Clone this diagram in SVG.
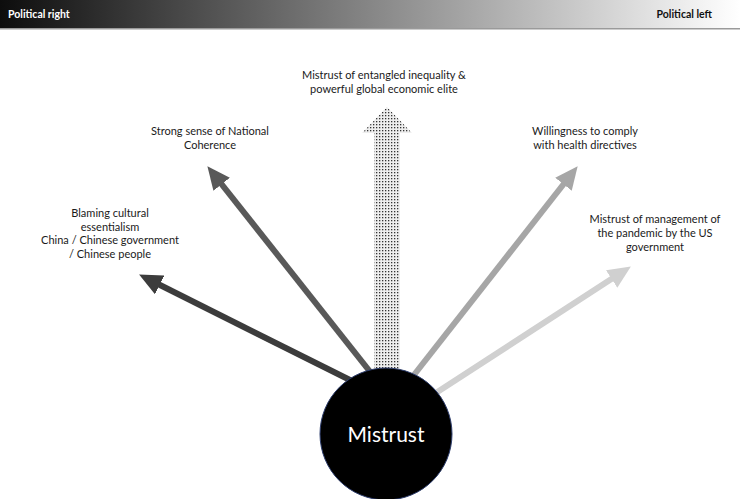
<svg xmlns="http://www.w3.org/2000/svg" width="740" height="499" viewBox="0 0 740 499">
<style>
.t{font-family:Lato,"Open Sans","Liberation Sans",sans-serif;font-size:11px;fill:#1a1a1a;text-anchor:middle}
.h{font-family:Lato,"Open Sans","Liberation Sans",sans-serif;font-size:10.5px;font-weight:bold}
.arr{stroke-width:6;fill:none}
</style>
<defs>
<linearGradient id="hg" x1="0" y1="0" x2="1" y2="0">
<stop offset="0" stop-color="#0d0d0d"/>
<stop offset="1" stop-color="#ffffff"/>
</linearGradient>
<pattern id="dots" width="3" height="3" patternUnits="userSpaceOnUse">
<rect width="3" height="3" fill="#eeeeee"/>
<rect x="1" y="1" width="1.3" height="1.3" fill="#333"/>
</pattern>
<marker id="m1" markerUnits="userSpaceOnUse" markerWidth="23" markerHeight="21" refX="8" refY="10.5" orient="auto"><path d="M0,0 L23,10.5 L0,21 z" fill="#3c3c3c"/></marker>
<marker id="m2" markerUnits="userSpaceOnUse" markerWidth="23" markerHeight="21" refX="8" refY="10.5" orient="auto"><path d="M0,0 L23,10.5 L0,21 z" fill="#595959"/></marker>
<marker id="m4" markerUnits="userSpaceOnUse" markerWidth="23" markerHeight="21" refX="8" refY="10.5" orient="auto"><path d="M0,0 L23,10.5 L0,21 z" fill="#a6a6a6"/></marker>
<marker id="m5" markerUnits="userSpaceOnUse" markerWidth="23" markerHeight="21" refX="8" refY="10.5" orient="auto"><path d="M0,0 L23,10.5 L0,21 z" fill="#d0d0d0"/></marker>
</defs>
<rect width="740" height="499" fill="#ffffff"/>
<g id="header">
<rect x="0" y="0" width="740" height="28" fill="url(#hg)"/>
<rect x="0" y="28" width="740" height="1.5" fill="#9a9a9a"/>
<text class="h" x="8" y="18" fill="#ffffff">Political right</text>
<text class="h" x="712" y="18" fill="#111111" text-anchor="end">Political left</text>
</g>
<g id="connectors">
<line class="arr" x1="360" y1="385" x2="152.5" y2="281.3" stroke="#3c3c3c" marker-end="url(#m1)"/>
<line class="arr" x1="375" y1="378" x2="216.7" y2="178" stroke="#595959" marker-end="url(#m2)"/>
<line class="arr" x1="410" y1="380" x2="568.4" y2="178" stroke="#a6a6a6" marker-end="url(#m4)"/>
<line class="arr" x1="425" y1="400" x2="618.3" y2="274.6" stroke="#d0d0d0" marker-end="url(#m5)"/>
<polygon points="374,380 374,133 362,133 387,107 412,133 400,133 400,380" fill="url(#dots)"/>
</g>
<g id="mistrust">
<circle cx="386" cy="434" r="66" fill="#000000" stroke="#2f3f6f" stroke-width="1"/>
<text x="386" y="442" font-family="Lato,'Open Sans','Liberation Sans',sans-serif" font-size="21" fill="#ffffff" text-anchor="middle">Mistrust</text>
</g>
<g id="inequality">
<text class="t" x="384" y="79">Mistrust of entangled inequality &amp;</text>
<text class="t" x="384" y="93">powerful global economic elite</text>
</g>
<g id="national">
<text class="t" x="210" y="135">Strong sense of National</text>
<text class="t" x="210" y="149">Coherence</text>
</g>
<g id="health">
<text class="t" x="585" y="135">Willingness to comply</text>
<text class="t" x="585" y="149">with health directives</text>
</g>
<g id="blaming">
<text class="t" x="110" y="217">Blaming cultural</text>
<text class="t" x="110" y="231">essentialism</text>
<text class="t" x="110" y="244">China / Chinese government</text>
<text class="t" x="110" y="258">/ Chinese people</text>
</g>
<g id="management">
<text class="t" x="655" y="223">Mistrust of management of</text>
<text class="t" x="655" y="237">the pandemic by the US</text>
<text class="t" x="655" y="251">government</text>
</g>
</svg>
